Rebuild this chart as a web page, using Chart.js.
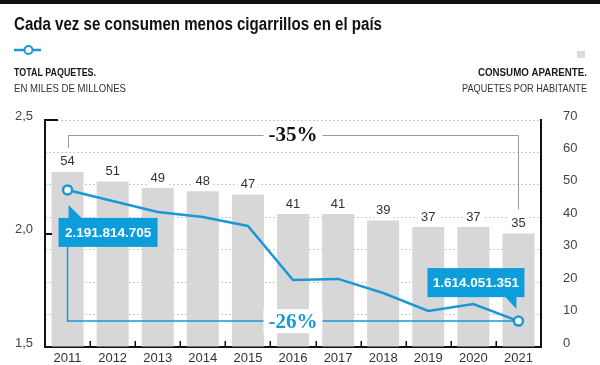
<!DOCTYPE html>
<html><head><meta charset="utf-8">
<script src="https://cdn.jsdelivr.net/npm/chart.js@4/dist/chart.umd.min.js"></script>
<style>html,body{margin:0;padding:0;background:#fff;overflow:hidden}canvas{display:block}</style>
</head><body><canvas id="c" width="600" height="365"></canvas>
<script>
// ---- data ----
const years = ['2011','2012','2013','2014','2015','2016','2017','2018','2019','2020','2021'];
const totalPaquetes = [2.192, 2.143, 2.095, 2.073, 2.033, 1.795, 1.800, 1.738, 1.659, 1.689, 1.614]; // miles de millones
const consumoAparente = [54, 51, 49, 48, 47, 41, 41, 39, 37, 37, 35]; // paquetes por habitante
const leftTicks = [1.5, 2.0, 2.5];
const rightTicks = [0, 10, 20, 30, 40, 50, 60, 70];
const firstValueLabel = '2.191.814.705';
const lastValueLabel = '1.614.051.351';
const barsChange = '-35%';
const lineChange = '-26%';
const titleText = 'Cada vez se consumen menos cigarrillos en el país';
const leftHead = ['TOTAL PAQUETES.', 'EN MILES DE MILLONES'];
const rightHead = ['CONSUMO APARENTE.', 'PAQUETES POR HABITANTE'];

// ---- styles ----
const BLUE = '#1a98d5';
const BOXBLUE = '#0c9ddb';
const BARGREY = '#d7d7d7';
const SANS = '"Liberation Sans",Arial,sans-serif';
const SERIF = '"Liberation Serif","DejaVu Serif",serif';

// draw text squeezed horizontally to a target width (emulates a condensed face)
function fitText(ctx, text, x, y, targetW, align) {
  const w = ctx.measureText(text).width;
  const k = Math.min(1, targetW / w);
  ctx.save();
  ctx.translate(x, y);
  ctx.scale(k, 1);
  ctx.textAlign = align;
  ctx.fillText(text, 0, 0);
  ctx.restore();
}

const deco = {
  id: 'deco',
  beforeDraw(chart) {
    const ctx = chart.ctx;
    ctx.save();
    ctx.fillStyle = '#fff';
    ctx.fillRect(0, 0, chart.width, chart.height);
    ctx.fillStyle = '#111';
    ctx.fillRect(0, 0, chart.width, 4);
    ctx.textBaseline = 'alphabetic';
    // title
    ctx.fillStyle = '#111';
    ctx.font = 'bold 17.5px ' + SANS;
    fitText(ctx, titleText, 14, 30, 368, 'left');
    // legend icon line
    ctx.strokeStyle = BLUE; ctx.lineWidth = 2.5;
    ctx.beginPath(); ctx.moveTo(14, 50); ctx.lineTo(41, 50); ctx.stroke();
    ctx.beginPath(); ctx.arc(28.5, 50, 4, 0, Math.PI * 2);
    ctx.fillStyle = '#fff'; ctx.fill(); ctx.lineWidth = 2; ctx.stroke();
    // legend square
    ctx.fillStyle = '#dcdcdc';
    ctx.fillRect(577, 51, 8, 7);
    // left header
    ctx.fillStyle = '#1a1a1a';
    ctx.font = 'bold 11px ' + SANS;
    fitText(ctx, leftHead[0], 14, 76, 82, 'left');
    ctx.fillStyle = '#333';
    ctx.font = '11.5px ' + SANS;
    fitText(ctx, leftHead[1], 14, 92, 112, 'left');
    // right header
    ctx.fillStyle = '#1a1a1a';
    ctx.font = 'bold 11px ' + SANS;
    fitText(ctx, rightHead[0], 587, 76, 109, 'right');
    ctx.fillStyle = '#333';
    ctx.font = '11.5px ' + SANS;
    fitText(ctx, rightHead[1], 587, 92, 125, 'right');
    ctx.restore();
  },
  afterDatasetDraw(chart, args) {
    if (args.index !== 0) return;
    const ctx = chart.ctx;
    const xs = chart.scales.x;
    const yl = chart.scales.y;
    const area = chart.chartArea;
    const bars = args.meta.data;
    const n = years.length;
    ctx.save();
    // bar value labels
    ctx.font = '13px ' + SANS;
    ctx.textAlign = 'center';
    ctx.textBaseline = 'middle';
    bars.forEach((b, i) => {
      const t = String(consumoAparente[i]);
      const w = ctx.measureText(t).width;
      const cy = b.y - 10;
      ctx.fillStyle = '#fff';
      ctx.fillRect(b.x - w / 2 - 3, cy - 7, w + 6, 14);
      ctx.fillStyle = '#333';
      ctx.fillText(t, b.x, cy);
    });
    const x0 = xs.getPixelForValue(0);
    const x1 = xs.getPixelForValue(n - 1);
    const mid = (x0 + x1) / 2;
    // -35% bracket
    const yTop = area.top + 15;
    ctx.strokeStyle = '#9a9a9a';
    ctx.lineWidth = 1;
    ctx.beginPath();
    ctx.moveTo(Math.round(x0) + 0.5, bars[0].y - 24);
    ctx.lineTo(Math.round(x0) + 0.5, yTop + 0.5);
    ctx.lineTo(Math.round(x1) + 0.5, yTop + 0.5);
    ctx.lineTo(Math.round(x1) + 0.5, bars[n - 1].y - 24);
    ctx.stroke();
    ctx.font = 'bold 21px ' + SERIF;
    let w = ctx.measureText(barsChange).width;
    ctx.fillStyle = '#fff';
    ctx.fillRect(mid - w / 2 - 5, yTop - 12, w + 10, 24);
    ctx.fillStyle = '#111';
    ctx.fillText(barsChange, mid, yTop + 1);
    // -26% bracket
    const p0y = yl.getPixelForValue(totalPaquetes[0]);
    const pNy = yl.getPixelForValue(totalPaquetes[n - 1]);
    ctx.strokeStyle = BLUE;
    ctx.lineWidth = 1.5;
    ctx.beginPath();
    ctx.moveTo(x0, p0y + 57);
    ctx.lineTo(x0, pNy);
    ctx.lineTo(x1, pNy);
    ctx.stroke();
    w = ctx.measureText(lineChange).width;
    ctx.fillStyle = '#fff';
    ctx.fillRect(mid - w / 2 - 5, pNy - 12, w + 10, 24);
    ctx.fillStyle = BLUE;
    ctx.fillText(lineChange, mid, pNy + 1);
    ctx.restore();
  },
  afterDatasetsDraw(chart) {
    const ctx = chart.ctx;
    const xs = chart.scales.x;
    const yl = chart.scales.y;
    const area = chart.chartArea;
    const n = years.length;
    const px0 = xs.getPixelForValue(0), py0 = yl.getPixelForValue(totalPaquetes[0]);
    const pxN = xs.getPixelForValue(n - 1), pyN = yl.getPixelForValue(totalPaquetes[n - 1]);
    ctx.save();
    ctx.fillStyle = BOXBLUE;
    // box 1 (below first point, tail up)
    let bl = px0 - 9, bt = py0 + 28, bw = 99, bh = 29;
    ctx.beginPath();
    ctx.moveTo(px0 + 1, py0 + 15);
    ctx.lineTo(px0 + 15, bt + 1);
    ctx.lineTo(px0 + 1, bt + 1);
    ctx.closePath(); ctx.fill();
    ctx.fillRect(bl, bt, bw, bh);
    ctx.fillStyle = '#fff';
    ctx.font = 'bold 13.5px ' + SANS;
    ctx.textAlign = 'center'; ctx.textBaseline = 'middle';
    ctx.fillText(firstValueLabel, bl + bw / 2, bt + bh / 2 + 1);
    // box 2 (above last point, tail down)
    ctx.fillStyle = BOXBLUE;
    bl = pxN - 91; bt = pyN - 53;
    ctx.beginPath();
    ctx.moveTo(pxN - 2, pyN - 12);
    ctx.lineTo(pxN - 14, bt + bh - 1);
    ctx.lineTo(pxN - 2, bt + bh - 1);
    ctx.closePath(); ctx.fill();
    ctx.fillRect(bl, bt, bw - 2, bh);
    ctx.fillStyle = '#fff';
    ctx.fillText(lastValueLabel, bl + (bw - 2) / 2, bt + bh / 2 + 1);
    // inward axis ticks
    ctx.strokeStyle = '#111';
    ctx.lineWidth = 1.5;
    ctx.beginPath();
    for (let i = 1; i < n; i++) {
      const x = Math.round((xs.getPixelForValue(i - 1) + xs.getPixelForValue(i)) / 2) + 0.25;
      ctx.moveTo(x, area.bottom); ctx.lineTo(x, area.bottom - 6);
    }
    ctx.stroke();
    ctx.lineWidth = 2;
    ctx.beginPath();
    const y2 = Math.round(yl.getPixelForValue(2.0));
    ctx.moveTo(area.left, y2); ctx.lineTo(area.left + 7, y2);
    ctx.moveTo(area.left, area.top); ctx.lineTo(area.left + 13, area.top);
    ctx.stroke();
    ctx.restore();
  }
};

new Chart(document.getElementById('c'), {
  data: {
    labels: years,
    datasets: [
      {
        type: 'bar', label: 'Consumo aparente', data: consumoAparente, yAxisID: 'y1',
        backgroundColor: BARGREY, barPercentage: 0.71, categoryPercentage: 1, order: 2
      },
      {
        type: 'line', label: 'Total paquetes', data: totalPaquetes, yAxisID: 'y',
        borderColor: BLUE, borderWidth: 2.5, tension: 0,
        pointRadius: totalPaquetes.map((v, i) => (i === 0 || i === totalPaquetes.length - 1) ? 4.5 : 0),
        pointBackgroundColor: '#fff', pointBorderColor: BLUE, pointBorderWidth: 2.5, order: 1
      }
    ]
  },
  options: {
    responsive: false, animation: false, devicePixelRatio: 1,
    layout: { padding: { top: 120, left: 0, right: 0, bottom: 0 } },
    plugins: { legend: { display: false }, tooltip: { enabled: false } },
    scales: {
      x: {
        type: 'category', offset: true,
        grid: { display: false, drawTicks: false },
        border: { display: true, color: '#111', width: 2 },
        ticks: { color: '#333', font: { size: 13, family: SANS }, padding: 4, maxRotation: 0, autoSkip: false },
        afterFit: s => { s.height = 18; }
      },
      y: {
        position: 'left', min: 1.5, max: 2.5,
        afterBuildTicks: s => { s.ticks = leftTicks.map(v => ({ value: v })); },
        ticks: { color: '#444', font: { size: 13, family: SANS }, padding: 2, labelOffset: -4,
          callback: v => Number(v).toFixed(1).replace('.', ',') },
        grid: { display: true, drawOnChartArea: false, drawTicks: true, tickLength: 10, tickColor: 'rgba(0,0,0,0)' },
        border: { display: true, color: '#111', width: 2 },
        afterFit: s => { s.width = 45; }
      },
      y1: {
        position: 'right', min: 0, max: 70,
        afterBuildTicks: s => { s.ticks = rightTicks.map(v => ({ value: v })); },
        ticks: { color: '#444', font: { size: 13, family: SANS }, padding: 2, labelOffset: -4 },
        grid: { color: '#c9c9c9', lineWidth: 1, drawTicks: true, tickLength: 20, tickColor: 'rgba(0,0,0,0)' },
        border: { display: true, color: '#111', width: 2, dash: [2, 2] },
        afterFit: s => { s.width = 59; }
      }
    }
  },
  plugins: [deco]
});
</script>
</body></html>
